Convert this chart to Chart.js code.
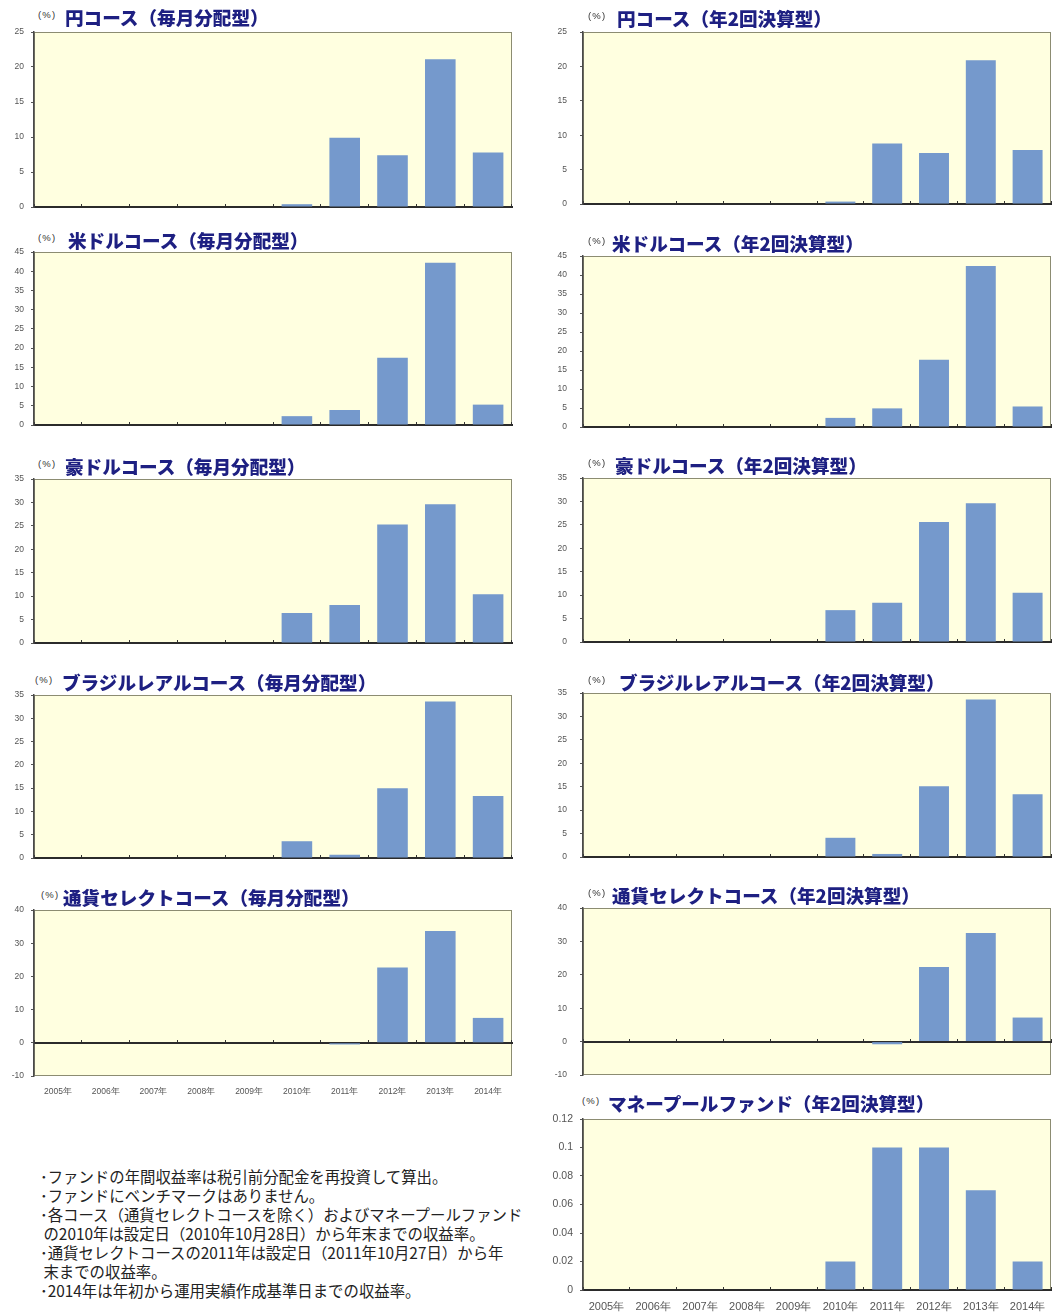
<!DOCTYPE html>
<html lang="ja">
<head>
<meta charset="utf-8">
<title>コース別 年間収益率の推移</title>
<script src="https://cdn.jsdelivr.net/npm/chart.js@4.4.1/dist/chart.umd.min.js"></script>
<style>
  html, body { margin: 0; padding: 0; background: #ffffff; }
  body { width: 1055px; height: 1313px; position: relative; overflow: hidden;
         font-family: 'Noto Sans CJK JP', 'Noto Sans', sans-serif; }
  canvas { position: absolute; }
  .unit { position: absolute; font-family: 'Liberation Sans', sans-serif; font-size: 9.5px;
          letter-spacing: 1.2px; color: #333; line-height: 1; white-space: nowrap; }
  .ttl { position: absolute; font-size: 18.6px; font-weight: 900; color: #1e2082;
         line-height: 1; white-space: nowrap; }
  .notes { position: absolute; left: 40px; top: 1167px; font-size: 15.4px; line-height: 19px;
           color: #222; white-space: pre; }
</style>
</head>
<body>
<div class="notes" id="notes"></div>
<script>
// 年次ラベル
const years = ['2005年', '2006年', '2007年', '2008年', '2009年', '2010年', '2011年', '2012年', '2013年', '2014年'];

// 各コースの年間収益率（%）
const yenMonthly       = [null, null, null, null, null, 0.4, 9.9, 7.4, 21.1, 7.8];
const usdMonthly       = [null, null, null, null, null, 2.3, 3.9, 17.5, 42.2, 5.3];
const audMonthly       = [null, null, null, null, null, 6.4, 8.1, 25.3, 29.6, 10.4];
const brlMonthly       = [null, null, null, null, null, 3.6, 0.7, 15.0, 33.6, 13.3];
const selectMonthly    = [null, null, null, null, null, null, -0.5, 22.7, 33.7, 7.5];

const yenSemiannual    = [null, null, null, null, null, 0.35, 8.8, 7.4, 20.9, 7.85];
const usdSemiannual    = [null, null, null, null, null, 2.4, 4.9, 17.7, 42.4, 5.4];
const audSemiannual    = [null, null, null, null, null, 6.8, 8.4, 25.6, 29.6, 10.5];
const brlSemiannual    = [null, null, null, null, null, 4.1, 0.65, 15.1, 33.6, 13.4];
const selectSemiannual = [null, null, null, null, null, null, -0.8, 22.3, 32.5, 7.2];

const moneyPool        = [null, null, null, null, null, 0.02, 0.10, 0.10, 0.07, 0.02];

// 注記
const notes = [
  '･ファンドの年間収益率は税引前分配金を再投資して算出。',
  '･ファンドにベンチマークはありません。',
  '･各コース（通貨セレクトコースを除く）およびマネープールファンド',
  ' の2010年は設定日（2010年10月28日）から年末までの収益率。',
  '･通貨セレクトコースの2011年は設定日（2011年10月27日）から年',
  ' 末までの収益率。',
  '･2014年は年初から運用実績作成基準日までの収益率。'
];
document.getElementById('notes').textContent = notes.join('\n');

// 左右の列の配置
const COLS = [
  { left: 0,   width: 520, axisW: 34, padRight: 8, tickPad: 7 },
  { left: 530, width: 525, axisW: 53, padRight: 4, tickPad: 13 }
];

// 各パネルの配置と軸設定
const panels = [
  { col: 0, top: 32,   bottom: 207,  min: 0,   max: 25, step: 5,  data: yenMonthly,    title: '円コース（毎月分配型）',             unitX: 38,  titleX: 65,  cy: 17 },
  { col: 0, top: 252,  bottom: 425,  min: 0,   max: 45, step: 5,  data: usdMonthly,    title: '米ドルコース（毎月分配型）',         unitX: 38,  titleX: 68,  cy: 240 },
  { col: 0, top: 479,  bottom: 643,  min: 0,   max: 35, step: 5,  data: audMonthly,    title: '豪ドルコース（毎月分配型）',         unitX: 38,  titleX: 65,  cy: 466 },
  { col: 0, top: 695,  bottom: 858,  min: 0,   max: 35, step: 5,  data: brlMonthly,    title: 'ブラジルレアルコース（毎月分配型）', unitX: 35,  titleX: 62,  cy: 682 },
  { col: 0, top: 910,  bottom: 1076, min: -10, max: 40, step: 10, data: selectMonthly, title: '通貨セレクトコース（毎月分配型）',   unitX: 41,  titleX: 63,  cy: 897,
    xLabels: { size: 8.5, pad: 11, band: 24 } },
  { col: 1, top: 32,   bottom: 204,  min: 0,   max: 25, step: 5,  data: yenSemiannual,    title: '円コース（年2回決算型）',             unitX: 588, titleX: 617, cy: 18 },
  { col: 1, top: 256,  bottom: 427,  min: 0,   max: 45, step: 5,  data: usdSemiannual,    title: '米ドルコース（年2回決算型）',         unitX: 588, titleX: 612, cy: 243 },
  { col: 1, top: 478,  bottom: 642,  min: 0,   max: 35, step: 5,  data: audSemiannual,    title: '豪ドルコース（年2回決算型）',         unitX: 588, titleX: 615, cy: 465 },
  { col: 1, top: 693,  bottom: 857,  min: 0,   max: 35, step: 5,  data: brlSemiannual,    title: 'ブラジルレアルコース（年2回決算型）', unitX: 588, titleX: 619, cy: 682 },
  { col: 1, top: 908,  bottom: 1075, min: -10, max: 40, step: 10, data: selectSemiannual, title: '通貨セレクトコース（年2回決算型）',   unitX: 588, titleX: 612, cy: 895 },
  { col: 1, top: 1119, bottom: 1290, min: 0,   max: 0.12, step: 0.02, data: moneyPool,    title: 'マネープールファンド（年2回決算型）', unitX: 582, titleX: 608, cy: 1103,
    yFont: 10.5, yPad: 7, xLabels: { size: 11, pad: 10, band: 23 } }
];

// プロット領域の背景と枠
const plotFrame = {
  id: 'plotFrame',
  beforeDraw(chart) {
    const { ctx, chartArea: a } = chart;
    ctx.save();
    ctx.fillStyle = '#ffffe0';
    ctx.fillRect(a.left, a.top, a.width, a.height);
    ctx.strokeStyle = '#8c8c72';
    ctx.lineWidth = 1;
    ctx.strokeRect(a.left + 0.5, a.top + 0.5, a.width - 1, a.height - 1);
    ctx.restore();
  }
};

function addText(cls, text, x, y) {
  const el = document.createElement('div');
  el.className = cls;
  el.textContent = text;
  el.style.left = x + 'px';
  el.style.top = y + 'px';
  document.body.appendChild(el);
}

function makePanel(p) {
  const col = COLS[p.col];
  const labelBand = p.xLabels ? p.xLabels.band : 0;
  const canvasTop = p.top - 8;
  const canvasBottom = p.bottom + (p.xLabels ? labelBand : 6);

  const canvas = document.createElement('canvas');
  canvas.width = col.width;
  canvas.height = canvasBottom - canvasTop;
  canvas.style.left = col.left + 'px';
  canvas.style.top = canvasTop + 'px';
  document.body.appendChild(canvas);

  addText('unit', '(%)', p.unitX, p.cy - 7);
  addText('ttl', p.title, p.titleX, p.cy - 9.3);

  const scales = {
    x: {
      type: 'category',
      position: { y: 0 },
      offset: true,
      z: 1,
      grid: { display: true, offset: true, drawOnChartArea: false, drawTicks: true,
              tickLength: -4, color: '#333333', lineWidth: 1 },
      border: { display: true, color: '#2b2b2b', width: 2 },
      ticks: { display: false }
    },
    y: {
      min: p.min,
      max: p.max,
      // fixed axis width; the layout padding already leaves room for the end labels
      afterFit: s => { s.width = col.axisW; s.paddingTop = 0; s.paddingBottom = 0; },
      ticks: {
        stepSize: p.step,
        font: { family: 'Liberation Sans', size: p.yFont || 8.5 },
        color: '#555555',
        padding: p.yPad || col.tickPad,
        callback: v => String(+Number(v).toFixed(4))
      },
      grid: { drawOnChartArea: false, tickLength: 3, color: '#555555' },
      border: { color: '#4a4a4a', width: 1.5 }
    }
  };

  if (p.xLabels) {
    scales.x2 = {
      type: 'category',
      labels: years,
      position: 'bottom',
      offset: true,
      grid: { display: false, drawTicks: false },
      border: { display: false },
      ticks: {
        font: { family: 'Liberation Sans', size: p.xLabels.size },
        color: '#555555',
        padding: p.xLabels.pad,
        maxRotation: 0,
        autoSkip: false
      },
      afterFit: s => { s.height = labelBand; s.paddingLeft = 0; s.paddingRight = 0; }
    };
  }

  new Chart(canvas, {
    type: 'bar',
    data: {
      labels: years,
      datasets: [{
        data: p.data,
        backgroundColor: '#7599cc',
        borderWidth: 0,
        barPercentage: 0.64,
        categoryPercentage: 1,
        xAxisID: 'x',
        yAxisID: 'y'
      }]
    },
    options: {
      responsive: false,
      animation: false,
      layout: { padding: { top: 8, right: col.padRight, bottom: p.xLabels ? 0 : 6, left: 0 } },
      plugins: { legend: { display: false }, tooltip: { enabled: false } },
      scales
    },
    plugins: [plotFrame]
  });
}

panels.forEach(makePanel);
</script>
</body>
</html>
